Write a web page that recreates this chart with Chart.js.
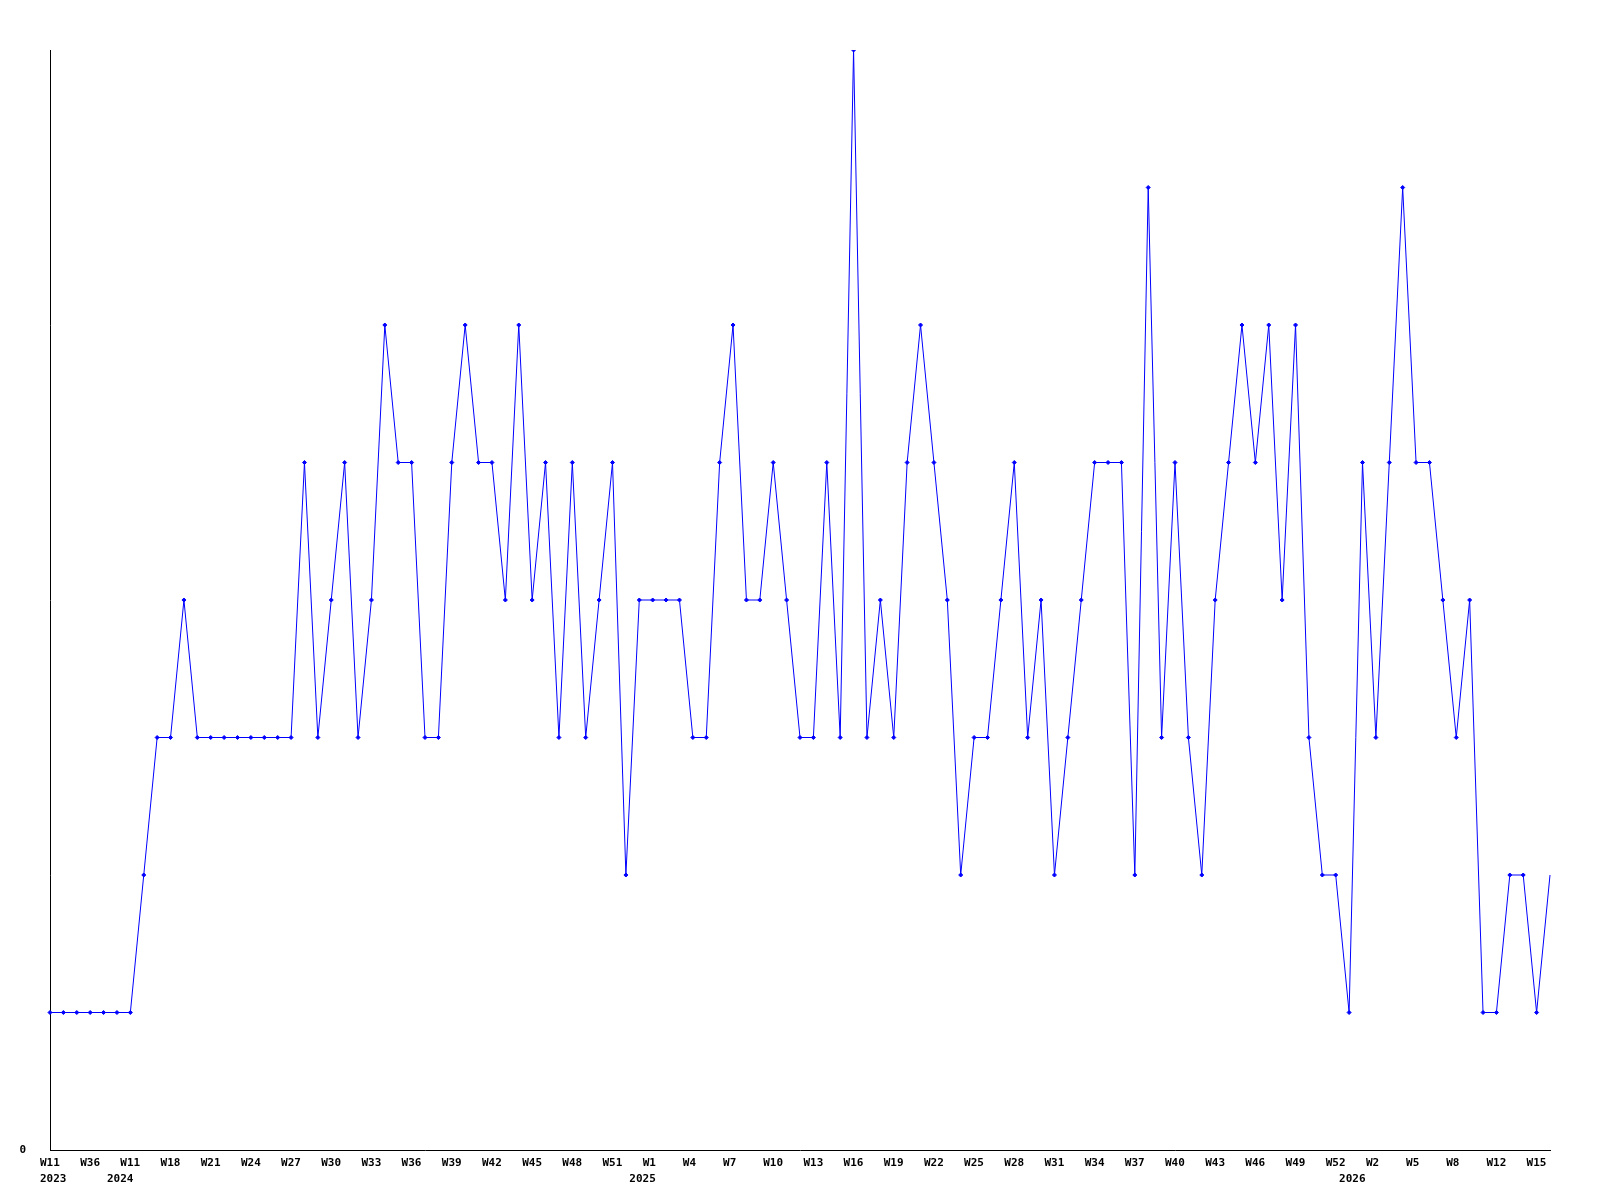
<!DOCTYPE html>
<html>
<head>
<meta charset="utf-8">
<script src="https://cdn.jsdelivr.net/npm/chart.js@4/dist/chart.umd.min.js"></script>
<style>
    body { margin: 0; background: #ffffff; }
    canvas { display: block; }
</style>
</head>
<body>
<canvas id="chart_weeks" width="1600" height="1200"></canvas>
<script>
// one value per week, oldest first
const values = [
    1, 1, 1, 1, 1, 1, 1, 2, 3, 3,
    4, 3, 3, 3, 3, 3, 3, 3, 3, 5,
    3, 4, 5, 3, 4, 6, 5, 5, 3, 3,
    5, 6, 5, 5, 4, 6, 4, 5, 3, 5,
    3, 4, 5, 2, 4, 4, 4, 4, 3, 3,
    5, 6, 4, 4, 5, 4, 3, 3, 5, 3,
    8, 3, 4, 3, 5, 6, 5, 4, 2, 3,
    3, 4, 5, 3, 4, 2, 3, 4, 5, 5,
    5, 2, 7, 3, 5, 3, 2, 4, 5, 6,
    5, 6, 4, 6, 3, 2, 2, 1, 5, 3,
    5, 7, 5, 5, 4, 3, 4, 1, 1, 2,
    2, 1, 2,
];

// week label on every third point
const tickLabels = [
    'W11', 'W36', 'W11', 'W18', 'W21', 'W24', 'W27', 'W30', 'W33', 'W36',
    'W39', 'W42', 'W45', 'W48', 'W51', 'W1', 'W4', 'W7', 'W10', 'W13',
    'W16', 'W19', 'W22', 'W25', 'W28', 'W31', 'W34', 'W37', 'W40', 'W43',
    'W46', 'W49', 'W52', 'W2', 'W5', 'W8', 'W12', 'W15',
];
const tickStep = 3;

// year captions and the point they sit under
const years = ['2023', '2024', '2025', '2026'];
const yearPoints = [0, 5, 44, 97];

function buildLabels() {
    return values.map((v, i) => {
        const week = i % tickStep === 0 ? (tickLabels[i / tickStep] || '') : '';
        const y = yearPoints.indexOf(i);
        if (y >= 0) {
            return [week, years[y]];
        }
        return week;
    });
}

function showWeeks() {
    const font = {family: 'DejaVu Sans Mono', size: 11, weight: 'bold', lineHeight: 16 / 11};

    return new Chart(document.getElementById('chart_weeks'), {
        type   : 'line',
        data   : {
            labels  : buildLabels(),
            datasets: [{
                data                : values,
                borderColor         : '#0000ff',
                borderWidth         : 1,
                tension             : 0,
                pointStyle          : 'rectRot',
                pointRadius         : values.map((v, i) => i === values.length - 1 ? 0 : 2),
                pointBackgroundColor: '#0000ff',
                pointBorderColor    : '#0000ff',
                pointBorderWidth    : 1,
            }],
        },
        options: {
            responsive: false,
            animation : false,
            layout    : {
                padding: {left: 0, top: 50, right: 50, bottom: 0},
            },
            plugins   : {
                legend : {display: false},
                title  : {display: false},
                tooltip: {enabled: false},
            },
            scales    : {
                x: {
                    grid    : {display: false, drawTicks: false},
                    border  : {display: true, color: '#000000', width: 1},
                    ticks   : {
                        autoSkip   : false,
                        maxRotation: 0,
                        minRotation: 0,
                        align      : 'start',
                        labelOffset: -10,
                        padding    : 5,
                        color      : '#000000',
                        font       : font,
                    },
                    afterFit: (scale) => { scale.height = 50; },
                },
                y: {
                    min     : 0,
                    max     : 8,
                    grid    : {display: false, drawTicks: false},
                    border  : {display: true, color: '#000000', width: 1},
                    ticks   : {
                        stepSize: 1,
                        padding : 24,
                        color   : '#000000',
                        font    : font,
                        callback: (value) => value === 0 ? '0' : '',
                    },
                    afterFit: (scale) => { scale.width = 50; },
                },
            },
        },
    });
}

showWeeks();
</script>
</body>
</html>
